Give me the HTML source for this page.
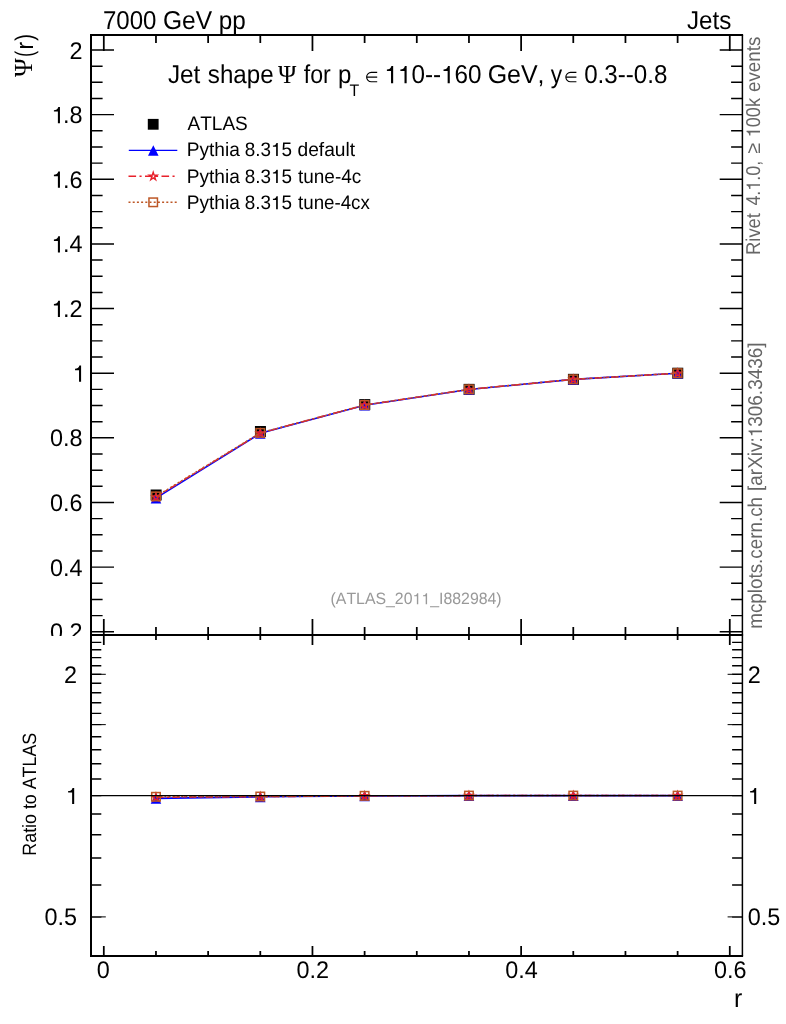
<!DOCTYPE html>
<html><head><meta charset="utf-8"><title>plot</title>
<style>html,body{margin:0;padding:0;background:#fff}svg{display:block;will-change:transform}</style></head>
<body>
<svg width="786" height="1024" viewBox="0 0 786 1024" font-family="Liberation Sans, sans-serif" fill="#000" style="font-kerning:none;text-rendering:geometricPrecision">
<defs><clipPath id="cm"><rect x="0" y="0" width="786" height="636"/></clipPath></defs>
<rect width="786" height="1024" fill="#fff"/>
<path d="M91 631.76h23M742.4 631.76h-22.7M91 615.60h11.6M742.4 615.60h-11.299999999999999M91 599.44h11.6M742.4 599.44h-11.299999999999999M91 583.28h11.6M742.4 583.28h-11.299999999999999M91 567.12h23M742.4 567.12h-22.7M91 550.96h11.6M742.4 550.96h-11.299999999999999M91 534.80h11.6M742.4 534.80h-11.299999999999999M91 518.64h11.6M742.4 518.64h-11.299999999999999M91 502.48h23M742.4 502.48h-22.7M91 486.32h11.6M742.4 486.32h-11.299999999999999M91 470.16h11.6M742.4 470.16h-11.299999999999999M91 454.00h11.6M742.4 454.00h-11.299999999999999M91 437.84h23M742.4 437.84h-22.7M91 421.68h11.6M742.4 421.68h-11.299999999999999M91 405.52h11.6M742.4 405.52h-11.299999999999999M91 389.36h11.6M742.4 389.36h-11.299999999999999M91 373.20h23M742.4 373.20h-22.7M91 357.04h11.6M742.4 357.04h-11.299999999999999M91 340.88h11.6M742.4 340.88h-11.299999999999999M91 324.72h11.6M742.4 324.72h-11.299999999999999M91 308.56h23M742.4 308.56h-22.7M91 292.40h11.6M742.4 292.40h-11.299999999999999M91 276.24h11.6M742.4 276.24h-11.299999999999999M91 260.08h11.6M742.4 260.08h-11.299999999999999M91 243.92h23M742.4 243.92h-22.7M91 227.76h11.6M742.4 227.76h-11.299999999999999M91 211.60h11.6M742.4 211.60h-11.299999999999999M91 195.44h11.6M742.4 195.44h-11.299999999999999M91 179.28h23M742.4 179.28h-22.7M91 163.12h11.6M742.4 163.12h-11.299999999999999M91 146.96h11.6M742.4 146.96h-11.299999999999999M91 130.80h11.6M742.4 130.80h-11.299999999999999M91 114.64h23M742.4 114.64h-22.7M91 98.48h11.6M742.4 98.48h-11.299999999999999M91 82.32h11.6M742.4 82.32h-11.299999999999999M91 66.16h11.6M742.4 66.16h-11.299999999999999M91 50.00h23M742.4 50.00h-22.7M91 916.90h10.3M742.4 916.90h-10.3M91 884.99h10.3M742.4 884.99h-10.3M91 858.02h10.3M742.4 858.02h-10.3M91 834.65h10.3M742.4 834.65h-10.3M91 814.04h10.3M742.4 814.04h-10.3M91 795.60h10.3M742.4 795.60h-10.3M91 778.92h10.3M742.4 778.92h-10.3M91 763.69h10.3M742.4 763.69h-10.3M91 749.69h10.3M742.4 749.69h-10.3M91 736.72h10.3M742.4 736.72h-10.3M91 724.64h10.3M742.4 724.64h-10.3M91 713.35h10.3M742.4 713.35h-10.3M91 702.74h10.3M742.4 702.74h-10.3M91 692.74h10.3M742.4 692.74h-10.3M91 683.28h10.3M742.4 683.28h-10.3M91 674.30h10.3M742.4 674.30h-10.3M91 665.76h10.3M742.4 665.76h-10.3M91 657.62h10.3M742.4 657.62h-10.3M91 649.84h10.3M742.4 649.84h-10.3M91 642.39h10.3M742.4 642.39h-10.3" stroke="#000" stroke-width="1.45" fill="none"/>
<path d="M103.80 35v16M103.80 635v-16M103.80 635v10M103.80 956v-10M155.97 35v8M155.97 635v-8M155.97 635v5M155.97 956v-5M208.13 35v8M208.13 635v-8M208.13 635v5M208.13 956v-5M260.30 35v8M260.30 635v-8M260.30 635v5M260.30 956v-5M312.46 35v16M312.46 635v-16M312.46 635v10M312.46 956v-10M364.62 35v8M364.62 635v-8M364.62 635v5M364.62 956v-5M416.79 35v8M416.79 635v-8M416.79 635v5M416.79 956v-5M468.96 35v8M468.96 635v-8M468.96 635v5M468.96 956v-5M521.12 35v16M521.12 635v-16M521.12 635v10M521.12 956v-10M573.28 35v8M573.28 635v-8M573.28 635v5M573.28 956v-5M625.45 35v8M625.45 635v-8M625.45 635v5M625.45 956v-5M677.62 35v8M677.62 635v-8M677.62 635v5M677.62 956v-5M729.78 35v16M729.78 635v-16M729.78 635v10M729.78 956v-10" stroke="#000" stroke-width="1.75" fill="none"/>
<path d="M101 916.90h4.8M732.4 916.90h-4.8M101 724.64h4.8M732.4 724.64h-4.8M101 674.30h4.8M732.4 674.30h-4.8" stroke="#000" stroke-width="1.0" fill="none"/>
<g>
<rect x="150.62" y="489.51" width="11.0" height="11.0" fill="#000"/>
<rect x="254.94" y="426.01" width="11.0" height="11.0" fill="#000"/>
<rect x="359.27" y="399.12" width="11.0" height="11.0" fill="#000"/>
<rect x="463.60" y="383.86" width="11.0" height="11.0" fill="#000"/>
<rect x="567.93" y="373.84" width="11.0" height="11.0" fill="#000"/>
<rect x="672.26" y="367.70" width="11.0" height="11.0" fill="#000"/>
<path d="M155.97 498.18L260.29 433.32L364.62 405.20L468.95 389.46L573.28 379.41L677.62 373.20" stroke="#0000ff" stroke-width="1.6" fill="none"/>
<path d="M155.97 493.18L161.27 503.58H150.66Z" fill="#0000ff"/>
<path d="M260.29 428.32L265.59 438.72H254.99Z" fill="#0000ff"/>
<path d="M364.62 400.20L369.93 410.60H359.32Z" fill="#0000ff"/>
<path d="M468.95 384.46L474.25 394.86H463.65Z" fill="#0000ff"/>
<path d="M573.28 374.41L578.58 384.81H567.99Z" fill="#0000ff"/>
<path d="M677.62 368.20L682.91 378.60H672.32Z" fill="#0000ff"/>
<path d="M155.97 496.92L260.29 433.12L364.62 405.10L468.95 389.39L573.28 379.37L677.62 373.20" stroke="#e8212b" stroke-width="1.5" fill="none" stroke-dasharray="7.6 3.4 2.1 3.4"/>
<path d="M155.97 493.02L156.89 495.85L159.86 495.85L157.45 497.60L158.37 500.44L155.97 498.69L153.56 500.44L154.48 497.60L152.07 495.85L155.04 495.85Z" fill="none" stroke="#e8212b" stroke-width="1.4" stroke-linejoin="miter" stroke-miterlimit="6"/>
<path d="M260.29 429.22L261.22 432.05L264.19 432.05L261.78 433.81L262.70 436.64L260.29 434.89L257.89 436.64L258.81 433.81L256.40 432.05L259.37 432.05Z" fill="none" stroke="#e8212b" stroke-width="1.4" stroke-linejoin="miter" stroke-miterlimit="6"/>
<path d="M364.62 401.20L365.55 404.03L368.52 404.03L366.11 405.78L367.03 408.62L364.62 406.87L362.22 408.62L363.14 405.78L360.73 404.03L363.70 404.03Z" fill="none" stroke="#e8212b" stroke-width="1.4" stroke-linejoin="miter" stroke-miterlimit="6"/>
<path d="M468.95 385.49L469.88 388.33L472.85 388.33L470.44 390.08L471.36 392.91L468.95 391.16L466.55 392.91L467.47 390.08L465.06 388.33L468.03 388.33Z" fill="none" stroke="#e8212b" stroke-width="1.4" stroke-linejoin="miter" stroke-miterlimit="6"/>
<path d="M573.28 375.47L574.21 378.31L577.18 378.31L574.77 380.06L575.69 382.89L573.28 381.14L570.88 382.89L571.80 380.06L569.39 378.31L572.36 378.31Z" fill="none" stroke="#e8212b" stroke-width="1.4" stroke-linejoin="miter" stroke-miterlimit="6"/>
<path d="M677.62 369.30L678.54 372.13L681.51 372.13L679.10 373.88L680.02 376.72L677.62 374.97L675.21 376.72L676.13 373.88L673.72 372.13L676.69 372.13Z" fill="none" stroke="#e8212b" stroke-width="1.4" stroke-linejoin="miter" stroke-miterlimit="6"/>
<path d="M155.97 496.40L260.29 432.90L364.62 405.00L468.95 389.36L573.28 379.34L677.62 373.20" stroke="#bd5726" stroke-width="1.5" fill="none" stroke-dasharray="2 2.2"/>
<rect x="151.72" y="492.15" width="8.5" height="8.5" fill="none" stroke="#bd5726" stroke-width="1.5"/>
<rect x="256.04" y="428.65" width="8.5" height="8.5" fill="none" stroke="#bd5726" stroke-width="1.5"/>
<rect x="360.38" y="400.75" width="8.5" height="8.5" fill="none" stroke="#bd5726" stroke-width="1.5"/>
<rect x="464.70" y="385.11" width="8.5" height="8.5" fill="none" stroke="#bd5726" stroke-width="1.5"/>
<rect x="569.03" y="375.09" width="8.5" height="8.5" fill="none" stroke="#bd5726" stroke-width="1.5"/>
<rect x="673.37" y="368.95" width="8.5" height="8.5" fill="none" stroke="#bd5726" stroke-width="1.5"/>
</g>
<g>
<path d="M155.97 798.37L260.29 796.80L364.62 795.95L468.95 795.66L573.28 795.64L677.62 795.60" stroke="#0000ff" stroke-width="1.6" fill="none"/>
<path d="M155.97 793.37L161.27 803.77H150.66Z" fill="#0000ff"/>
<path d="M260.29 791.80L265.59 802.20H254.99Z" fill="#0000ff"/>
<path d="M364.62 790.95L369.93 801.35H359.32Z" fill="#0000ff"/>
<path d="M468.95 790.66L474.25 801.06H463.65Z" fill="#0000ff"/>
<path d="M573.28 790.64L578.58 801.04H567.99Z" fill="#0000ff"/>
<path d="M677.62 790.60L682.91 801.00H672.32Z" fill="#0000ff"/>
<path d="M155.97 797.26L260.29 796.67L364.62 795.89L468.95 795.62L573.28 795.62L677.62 795.60" stroke="#e8212b" stroke-width="1.5" fill="none" stroke-dasharray="7.6 3.4 2.1 3.4"/>
<path d="M155.97 793.36L156.89 796.20L159.86 796.20L157.45 797.95L158.37 800.78L155.97 799.03L153.56 800.78L154.48 797.95L152.07 796.20L155.04 796.20Z" fill="none" stroke="#e8212b" stroke-width="1.4" stroke-linejoin="miter" stroke-miterlimit="6"/>
<path d="M260.29 792.77L261.22 795.60L264.19 795.60L261.78 797.35L262.70 800.19L260.29 798.44L257.89 800.19L258.81 797.35L256.40 795.60L259.37 795.60Z" fill="none" stroke="#e8212b" stroke-width="1.4" stroke-linejoin="miter" stroke-miterlimit="6"/>
<path d="M364.62 791.99L365.55 794.82L368.52 794.82L366.11 796.57L367.03 799.41L364.62 797.66L362.22 799.41L363.14 796.57L360.73 794.82L363.70 794.82Z" fill="none" stroke="#e8212b" stroke-width="1.4" stroke-linejoin="miter" stroke-miterlimit="6"/>
<path d="M468.95 791.72L469.88 794.55L472.85 794.55L470.44 796.30L471.36 799.14L468.95 797.38L466.55 799.14L467.47 796.30L465.06 794.55L468.03 794.55Z" fill="none" stroke="#e8212b" stroke-width="1.4" stroke-linejoin="miter" stroke-miterlimit="6"/>
<path d="M573.28 791.72L574.21 794.55L577.18 794.55L574.77 796.30L575.69 799.13L573.28 797.38L570.88 799.13L571.80 796.30L569.39 794.55L572.36 794.55Z" fill="none" stroke="#e8212b" stroke-width="1.4" stroke-linejoin="miter" stroke-miterlimit="6"/>
<path d="M677.62 791.70L678.54 794.53L681.51 794.53L679.10 796.28L680.02 799.12L677.62 797.37L675.21 799.12L676.13 796.28L673.72 794.53L676.69 794.53Z" fill="none" stroke="#e8212b" stroke-width="1.4" stroke-linejoin="miter" stroke-miterlimit="6"/>
<path d="M155.97 796.81L260.29 796.52L364.62 795.83L468.95 795.60L573.28 795.60L677.62 795.60" stroke="#bd5726" stroke-width="1.5" fill="none" stroke-dasharray="2 2.2"/>
<rect x="151.72" y="792.56" width="8.5" height="8.5" fill="none" stroke="#bd5726" stroke-width="1.5"/>
<rect x="256.04" y="792.27" width="8.5" height="8.5" fill="none" stroke="#bd5726" stroke-width="1.5"/>
<rect x="360.38" y="791.58" width="8.5" height="8.5" fill="none" stroke="#bd5726" stroke-width="1.5"/>
<rect x="464.70" y="791.35" width="8.5" height="8.5" fill="none" stroke="#bd5726" stroke-width="1.5"/>
<rect x="569.03" y="791.35" width="8.5" height="8.5" fill="none" stroke="#bd5726" stroke-width="1.5"/>
<rect x="673.37" y="791.35" width="8.5" height="8.5" fill="none" stroke="#bd5726" stroke-width="1.5"/>
<path d="M91 795.6H742" stroke="#000" stroke-width="1.2"/>
</g>
<path d="M90 35H743.1M90 635H743.1M90 955.9H743.1M91 35V956" stroke="#000" stroke-width="2" fill="none"/>
<path d="M742.4 35V956" stroke="#000" stroke-width="1.5" fill="none"/>
<g clip-path="url(#cm)"><g transform="translate(50.04 640.26) scale(0.9720 1)"><text x="0.00" y="0" font-size="24.1">0.2</text></g></g>
<g><g transform="translate(50.04 575.62) scale(0.9720 1)"><text x="0.00" y="0" font-size="24.1">0.4</text></g></g>
<g><g transform="translate(50.04 510.98) scale(0.9720 1)"><text x="0.00" y="0" font-size="24.1">0.6</text></g></g>
<g><g transform="translate(50.04 446.34) scale(0.9720 1)"><text x="0.00" y="0" font-size="24.1">0.8</text></g></g>
<g><g transform="translate(72.68 381.70) scale(0.9720 1)"><path transform="translate(0.00 0) scale(0.02410 -0.02304)" d="M359 0H271V500H101V564C190 566 265 600 288 703H359Z"/></g></g>
<g><g transform="translate(51.54 317.06) scale(0.9720 1)"><path transform="translate(0.00 0) scale(0.02410 -0.02304)" d="M359 0H271V500H101V564C190 566 265 600 288 703H359Z"/></g><g transform="translate(63.06 317.06) scale(0.9720 1)"><text x="0.00" y="0" font-size="24.1">.2</text></g></g>
<g><g transform="translate(51.54 252.42) scale(0.9720 1)"><path transform="translate(0.00 0) scale(0.02410 -0.02304)" d="M359 0H271V500H101V564C190 566 265 600 288 703H359Z"/></g><g transform="translate(63.06 252.42) scale(0.9720 1)"><text x="0.00" y="0" font-size="24.1">.4</text></g></g>
<g><g transform="translate(51.54 187.78) scale(0.9720 1)"><path transform="translate(0.00 0) scale(0.02410 -0.02304)" d="M359 0H271V500H101V564C190 566 265 600 288 703H359Z"/></g><g transform="translate(63.06 187.78) scale(0.9720 1)"><text x="0.00" y="0" font-size="24.1">.6</text></g></g>
<g><g transform="translate(51.54 123.14) scale(0.9720 1)"><path transform="translate(0.00 0) scale(0.02410 -0.02304)" d="M359 0H271V500H101V564C190 566 265 600 288 703H359Z"/></g><g transform="translate(63.06 123.14) scale(0.9720 1)"><text x="0.00" y="0" font-size="24.1">.8</text></g></g>
<g><g transform="translate(69.57 58.50) scale(0.9720 1)"><text x="0.00" y="0" font-size="24.1">2</text></g></g>
<g><g transform="translate(63.97 682.80) scale(0.9720 1)"><text x="0.00" y="0" font-size="24.1">2</text></g></g>
<g><g transform="translate(747.80 682.80) scale(0.9720 1)"><text x="0.00" y="0" font-size="24.1">2</text></g></g>
<g><g transform="translate(65.78 804.10) scale(0.9720 1)"><path transform="translate(0.00 0) scale(0.02410 -0.02304)" d="M359 0H271V500H101V564C190 566 265 600 288 703H359Z"/></g></g>
<g><g transform="translate(747.80 804.10) scale(0.9720 1)"><path transform="translate(0.00 0) scale(0.02410 -0.02304)" d="M359 0H271V500H101V564C190 566 265 600 288 703H359Z"/></g></g>
<g><g transform="translate(44.44 925.40) scale(0.9720 1)"><text x="0.00" y="0" font-size="24.1">0.5</text></g></g>
<g><g transform="translate(747.80 925.40) scale(0.9720 1)"><text x="0.00" y="0" font-size="24.1">0.5</text></g></g>
<g><g transform="translate(96.69 978.30) scale(0.9720 1)"><text x="0.00" y="0" font-size="24.1">0</text></g></g>
<g><g transform="translate(296.58 978.30) scale(0.9720 1)"><text x="0.00" y="0" font-size="24.1">0.2</text></g></g>
<g><g transform="translate(505.24 978.30) scale(0.9720 1)"><text x="0.00" y="0" font-size="24.1">0.4</text></g></g>
<g><g transform="translate(713.90 978.30) scale(0.9720 1)"><text x="0.00" y="0" font-size="24.1">0.6</text></g></g>
<g transform="translate(733.95 1006.70) scale(0.9612 1)"><text x="0.00" y="0" font-size="25.8">r</text></g>
<g transform="translate(102.97 29.20) scale(0.9316 1)"><text x="0.00" y="0" font-size="25.8">7000</text></g>
<g transform="translate(162.96 29.20) scale(0.9519 1)"><text x="0.00" y="0" font-size="25.8">GeV</text></g>
<g transform="translate(218.64 29.20) scale(0.9402 1)"><text x="0.00" y="0" font-size="25.8">pp</text></g>
<g transform="translate(687.02 29.20) scale(0.9373 1)"><text x="0.00" y="0" font-size="25.8">Jets</text></g>
<g transform="translate(167.92 83.30) scale(0.9431 1)"><text x="0.00" y="0" font-size="25.8">Jet</text></g>
<g transform="translate(207.83 83.30) scale(0.9353 1)"><text x="0.00" y="0" font-size="25.8">shape</text></g>
<g transform="translate(303.77 83.30) scale(0.8972 1)"><text x="0.00" y="0" font-size="25.8">for</text></g>
<g transform="translate(337.95 83.30) scale(0.9308 1)"><text x="0.00" y="0" font-size="25.8">p</text></g>
<g transform="translate(384.45 83.30) scale(0.9403 1)"><path transform="translate(0.00 0) scale(0.02580 -0.02466)" d="M359 0H271V500H101V564C190 566 265 600 288 703H359Z"/><path transform="translate(14.34 0) scale(0.02580 -0.02466)" d="M359 0H271V500H101V564C190 566 265 600 288 703H359Z"/><text x="28.69" y="0" font-size="25.8">0--</text><path transform="translate(60.22 0) scale(0.02580 -0.02466)" d="M359 0H271V500H101V564C190 566 265 600 288 703H359Z"/><text x="74.57" y="0" font-size="25.8">60</text></g>
<g transform="translate(487.64 83.30) scale(0.9678 1)"><text x="0.00" y="0" font-size="25.8">GeV,</text></g>
<g transform="translate(550.64 83.30) scale(0.8837 1)"><text x="0.00" y="0" font-size="25.8">y</text></g>
<g transform="translate(584.16 83.30) scale(0.9368 1)"><text x="0.00" y="0" font-size="25.8">0.3--0.8</text></g>
<g transform="translate(277.93 83.30) scale(0.9631 1)"><text x="0.00" y="0" font-size="25.8" font-family="Liberation Serif, serif">Ψ</text></g>
<g transform="translate(349.54 95.70) scale(0.9589 1)"><text x="0.00" y="0" font-size="16.6">T</text></g>
<path d="M377.20 72.40H371.30A4.70 4.70 0 0 0 371.30 81.80H377.20M366.60 77.10H377.20" fill="none" stroke="#000" stroke-width="1.12"/>
<path d="M576.40 72.40H570.50A4.70 4.70 0 0 0 570.50 81.80H576.40M565.80 77.10H576.40" fill="none" stroke="#000" stroke-width="1.12"/>
<rect x="147.80" y="118.90" width="10.8" height="10.8" fill="#000"/>
<path d="M128.8 150.4H177.3" stroke="#0000ff" stroke-width="1.4"/>
<path d="M153.30 145.30L158.60 155.70H148.00Z" fill="#0000ff"/>
<path d="M128.5 176.3H177" stroke="#e8212b" stroke-width="1.5" stroke-dasharray="7.6 3.4 2.1 3.4"/>
<path d="M153.20 172.30L154.12 175.13L157.10 175.13L154.69 176.88L155.61 179.72L153.20 177.97L150.79 179.72L151.71 176.88L149.30 175.13L152.28 175.13Z" fill="none" stroke="#e8212b" stroke-width="1.4" stroke-linejoin="miter" stroke-miterlimit="6"/>
<path d="M128.5 202.3H177" stroke="#bd5726" stroke-width="1.5" stroke-dasharray="2 2.2"/>
<rect x="148.95" y="198.05" width="8.5" height="8.5" fill="none" stroke="#bd5726" stroke-width="1.5"/>
<g transform="translate(187.56 129.70) scale(0.9747 1)"><text x="0.00" y="0" font-size="19.5">ATLAS</text></g>
<g transform="translate(186.73 156.00) scale(0.9791 1)"><text x="0.00" y="0" font-size="19.5">Pythia</text></g>
<g transform="translate(244.78 156.00) scale(0.9676 1)"><text x="0.00" y="0" font-size="19.5">8.3</text><path transform="translate(27.11 0) scale(0.01950 -0.01864)" d="M359 0H271V500H101V564C190 566 265 600 288 703H359Z"/><text x="37.95" y="0" font-size="19.5">5</text></g>
<g transform="translate(297.49 156.00) scale(0.9846 1)"><text x="0.00" y="0" font-size="19.5">default</text></g>
<g transform="translate(186.73 182.90) scale(0.9791 1)"><text x="0.00" y="0" font-size="19.5">Pythia</text></g>
<g transform="translate(244.78 182.90) scale(0.9676 1)"><text x="0.00" y="0" font-size="19.5">8.3</text><path transform="translate(27.11 0) scale(0.01950 -0.01864)" d="M359 0H271V500H101V564C190 566 265 600 288 703H359Z"/><text x="37.95" y="0" font-size="19.5">5</text></g>
<g transform="translate(298.01 182.90) scale(0.9715 1)"><text x="0.00" y="0" font-size="19.5">tune-4c</text></g>
<g transform="translate(186.73 209.30) scale(0.9791 1)"><text x="0.00" y="0" font-size="19.5">Pythia</text></g>
<g transform="translate(244.78 209.30) scale(0.9676 1)"><text x="0.00" y="0" font-size="19.5">8.3</text><path transform="translate(27.11 0) scale(0.01950 -0.01864)" d="M359 0H271V500H101V564C190 566 265 600 288 703H359Z"/><text x="37.95" y="0" font-size="19.5">5</text></g>
<g transform="translate(298.02 209.30) scale(0.9598 1)"><text x="0.00" y="0" font-size="19.5">tune-4cx</text></g>
<g transform="translate(330.52 604.20) scale(0.9677 1)" fill="#999999"><text x="0.00" y="0" font-size="16.4">(ATLAS_20</text><path transform="translate(84.78 0) scale(0.01640 -0.01568)" d="M359 0H271V500H101V564C190 566 265 600 288 703H359Z"/><path transform="translate(93.90 0) scale(0.01640 -0.01568)" d="M359 0H271V500H101V564C190 566 265 600 288 703H359Z"/><text x="103.02" y="0" font-size="16.4">_I882984)</text></g>
<g transform="translate(760.00 254.90) rotate(-90) scale(0.9160 1)" fill="#666666"><text x="0.00" y="0" font-size="20.0">Rivet</text></g>
<g transform="translate(760.00 205.61) rotate(-90) scale(0.8937 1)" fill="#666666"><text x="0.00" y="0" font-size="20.0">4.</text><path transform="translate(16.68 0) scale(0.02000 -0.01912)" d="M359 0H271V500H101V564C190 566 265 600 288 703H359Z"/><text x="27.80" y="0" font-size="20.0">.0,</text></g>
<g transform="translate(760.00 153.73) rotate(-90) scale(0.9983 1)" fill="#666666"><text x="0.00" y="0" font-size="20.0">≥</text></g>
<g transform="translate(760.00 137.33) rotate(-90) scale(0.9063 1)" fill="#666666"><path transform="translate(0.00 0) scale(0.02000 -0.01912)" d="M359 0H271V500H101V564C190 566 265 600 288 703H359Z"/><text x="11.12" y="0" font-size="20.0">00k</text></g>
<g transform="translate(760.00 92.00) rotate(-90) scale(0.9398 1)" fill="#666666"><text x="0.00" y="0" font-size="20.0">events</text></g>
<g transform="translate(762.00 628.75) rotate(-90) scale(0.9409 1)" fill="#666666"><text x="0.00" y="0" font-size="20.0">mcplots.cern.ch</text></g>
<g transform="translate(762.00 490.95) rotate(-90) scale(0.9472 1)" fill="#666666"><text x="0.00" y="0" font-size="20.0">[arXiv:</text><path transform="translate(56.68 0) scale(0.02000 -0.01912)" d="M359 0H271V500H101V564C190 566 265 600 288 703H359Z"/><text x="67.80" y="0" font-size="20.0">306.3436]</text></g>
<g transform="translate(36.00 855.66) rotate(-90) scale(0.9246 1)"><text x="0.00" y="0" font-size="19.3">Ratio to ATLAS</text></g>
<g transform="translate(32.30 76.97) rotate(-90) scale(0.9820 1)"><text x="0.00" y="0" font-size="26" font-family="Liberation Serif, serif">Ψ</text></g>
<g transform="translate(32.60 57.05) rotate(-90) scale(0.7247 1)"><text x="0.00" y="0" font-size="25.5">(</text></g>
<g transform="translate(32.60 49.41) rotate(-90) scale(0.9306 1)"><text x="0.00" y="0" font-size="24.5">r</text></g>
<g transform="translate(32.60 40.72) rotate(-90) scale(0.7839 1)"><text x="0.00" y="0" font-size="25.5">)</text></g>
</svg>
</body></html>
